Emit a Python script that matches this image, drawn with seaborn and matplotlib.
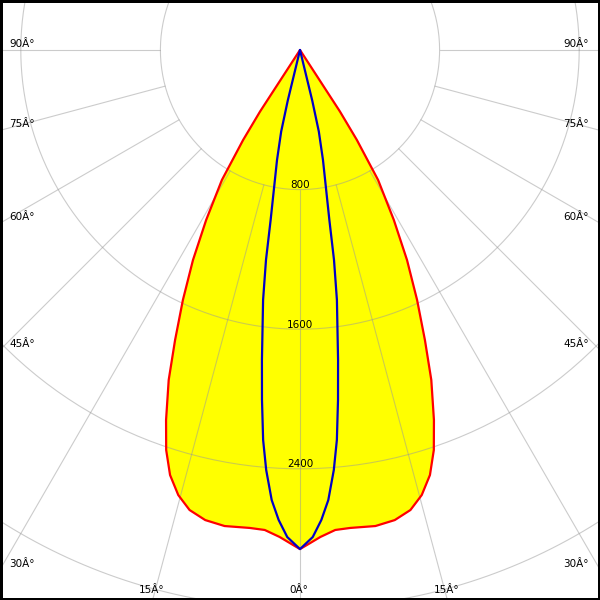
import numpy as np
import pandas as pd
import matplotlib
matplotlib.use("Agg")
import matplotlib.pyplot as plt
import seaborn as sns

# C0-C180 plane (red outline, yellow fill), half profile in cd, mirrored
red_angles = [0, 0.8, 2.4, 4.2, 6.0, 9.0, 11.4, 13.5, 15.3, 17.0, 18.5, 19.9,
              21.7, 23.3, 25.1, 27.0, 28.9, 31.0, 32.3, 33.0, 34.0]
red_cd = [2860, 2837, 2793, 2758, 2754, 2762, 2748, 2711, 2644, 2547, 2417, 2255,
          2035, 1810, 1582, 1351, 1113, 869, 610, 420, 0]

# C90-C270 plane (blue), half profile in cd, mirrored
blue_angles = [0, 1.5, 2.6, 3.6, 4.6, 5.4, 6.2, 7.0, 8.4, 9.2, 9.8, 11.8, 13.0, 13.6, 14.5]
blue_cd = [2860, 2792, 2696, 2584, 2415, 2245, 2017, 1790, 1448, 1219, 989, 644, 480, 300, 0]

ring_values = [800, 1600, 2400, 3200]
ring_labels = ["800", "1600", "2400"]
side_angles = [30, 45, 60, 75, 90]
side_labels = ["30Â°", "45Â°", "60Â°", "75Â°", "90Â°"]
bottom_angles = [0, 15]
bottom_labels = ["0Â°", "15Â°"]
spoke_angles = [0, 15, 30, 45, 60, 75, 90]

px = 0.1745  # pixels per cd
x_max = 300 / px
y_top = 50 / px
y_bot = -550 / px


def to_xy(angles, values):
    a = np.radians(np.asarray(angles, dtype=float))
    r = np.asarray(values, dtype=float)
    return r * np.sin(a), -r * np.cos(a)


def full_profile(angles, values):
    ang = [-a for a in angles[::-1]] + list(angles[1:])
    val = list(values[::-1]) + list(values[1:])
    x, y = to_xy(ang, val)
    return pd.DataFrame({"x": x, "y": y})


sns.set_style("white")
plt.rcParams["font.family"] = ["DejaVu Sans"]
plt.rcParams["text.color"] = "black"

fig = plt.figure(figsize=(6, 6), dpi=100)
ax = fig.add_axes([0, 0, 1, 1])

red = full_profile(red_angles, red_cd)
blue = full_profile(blue_angles, blue_cd)

ax.fill(red["x"], red["y"], color="#ffff00", zorder=1, lw=0)

# grid
grid_kw = dict(color="#999999", alpha=0.5, lw=0.8, zorder=2)
t = np.linspace(0, 2 * np.pi, 400)
for rv in ring_values:
    ax.plot(rv * np.cos(t), rv * np.sin(t), **grid_kw)
for a in spoke_angles:
    for s in ([1] if a == 0 else [-1, 1]):
        xs, ys = to_xy([s * a, s * a], [800, 6000])
        ax.plot(xs, ys, **grid_kw)

sns.lineplot(data=red, x="x", y="y", sort=False, estimator=None, color="#ff0000",
             lw=1.6, ax=ax, zorder=3)
sns.lineplot(data=blue, x="x", y="y", sort=False, estimator=None, color="#0000c8",
             lw=1.6, ax=ax, zorder=4)

fs = 7.5
for rv, lab in zip(ring_values, ring_labels):
    ax.text(0, -rv + 1.5 / px, lab, ha="center", va="baseline", fontsize=fs,
            color="black", zorder=5)

for a, lab in zip(side_angles, side_labels):
    yy = -x_max / np.tan(np.radians(a)) + 3 / px
    ax.text(-x_max + 9 / px, yy, lab, ha="left", va="baseline", fontsize=fs,
            color="black", zorder=5)
    ax.text(x_max - 11 / px, yy, lab, ha="right", va="baseline", fontsize=fs,
            color="black", zorder=5)

for a, lab in zip(bottom_angles, bottom_labels):
    xx = -y_bot * np.tan(np.radians(a))
    for s in ([1] if a == 0 else [-1, 1]):
        ax.text(s * xx - 1 / px, y_bot + 7 / px, lab, ha="center", va="baseline",
                fontsize=fs, color="black", zorder=5)

ax.set_xlim(-x_max, x_max)
ax.set_ylim(y_bot, y_top)
ax.set_xticks([])
ax.set_yticks([])
ax.set_xlabel("")
ax.set_ylabel("")
for sp in ax.spines.values():
    sp.set_visible(True)
    sp.set_color("black")
    sp.set_linewidth(3.6)
    sp.set_zorder(10)

fig.savefig("out.png", dpi=100, facecolor="white")
